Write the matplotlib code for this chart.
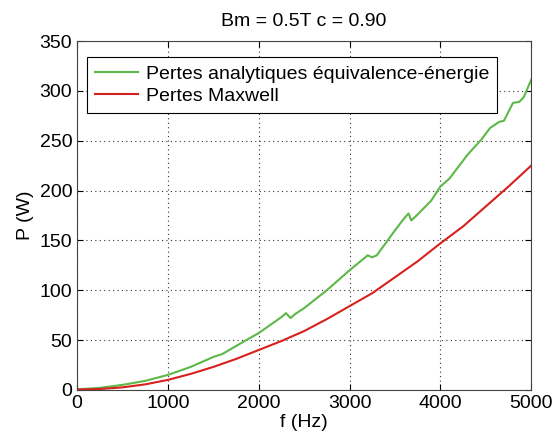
import matplotlib.pyplot as plt

plt.rcParams['font.family'] = ['Liberation Sans', 'DejaVu Sans']

# green curve: analytical losses (energy equivalence)
f_ana = [0, 250, 500, 750, 1000, 1250, 1500, 1600, 1750, 2000, 2250, 2300, 2350,
         2400, 2500, 2750, 3000, 3200, 3250, 3300, 3500, 3600, 3650, 3680, 3750,
         3900, 4000, 4100, 4200, 4300, 4450, 4550, 4650, 4700, 4800, 4870, 4920, 5000]
p_ana = [0.5, 2, 5, 9, 15, 23, 33, 36, 44, 57, 73, 77, 72,
         76, 82, 100, 120, 135, 133, 135, 160, 172, 177, 170, 176,
         190, 204, 212, 224, 236, 251, 263, 269, 270, 288, 289, 294, 311]

# red curve: Maxwell losses
f_max = [0, 250, 500, 750, 1000, 1250, 1500, 1750, 2000, 2250, 2500, 2750, 3000,
         3250, 3500, 3750, 4000, 4250, 4500, 4750, 5000]
p_max = [0.3, 0.8, 2.5, 5.5, 10, 16, 23, 31, 40, 49, 59, 71, 84,
         97, 113, 129, 147, 164, 184, 204, 225]

fig = plt.figure(figsize=(5.55, 4.42), dpi=100)
ax = fig.add_axes([0.139, 0.118, 0.818, 0.789])

ax.plot(f_ana, p_ana, color='#5cb847', lw=1.5, label='Pertes analytiques équivalence-énergie')
ax.plot(f_max, p_max, color='#d8201e', lw=1.5, label='Pertes Maxwell')

ax.set_xlim(0, 5000)
ax.set_ylim(0, 350)
ax.set_xticks([0, 1000, 2000, 3000, 4000, 5000])
ax.set_yticks(range(0, 351, 50))
ax.tick_params(direction='in', top=True, right=True, labelsize=14, length=4)
ax.grid(True, linestyle=(0, (1, 3)), color='#333333', lw=0.8)
for s in ax.spines.values():
    s.set_color('#444444')

ax.set_xlabel('f (Hz)', fontsize=14, labelpad=2)
ax.set_ylabel('P (W)', fontsize=14, labelpad=4)
ax.set_title('Bm = 0.5T c = 0.90', fontsize=14, pad=11)

leg = ax.legend(loc='upper left', bbox_to_anchor=(0.022, 0.955), borderaxespad=0,
                fontsize=14, fancybox=False, framealpha=1, edgecolor='black',
                handlelength=2.2, handletextpad=0.4, labelspacing=0.25, borderpad=0.42)
leg.get_frame().set_linewidth(0.8)

fig.savefig('out.png', dpi=100)
